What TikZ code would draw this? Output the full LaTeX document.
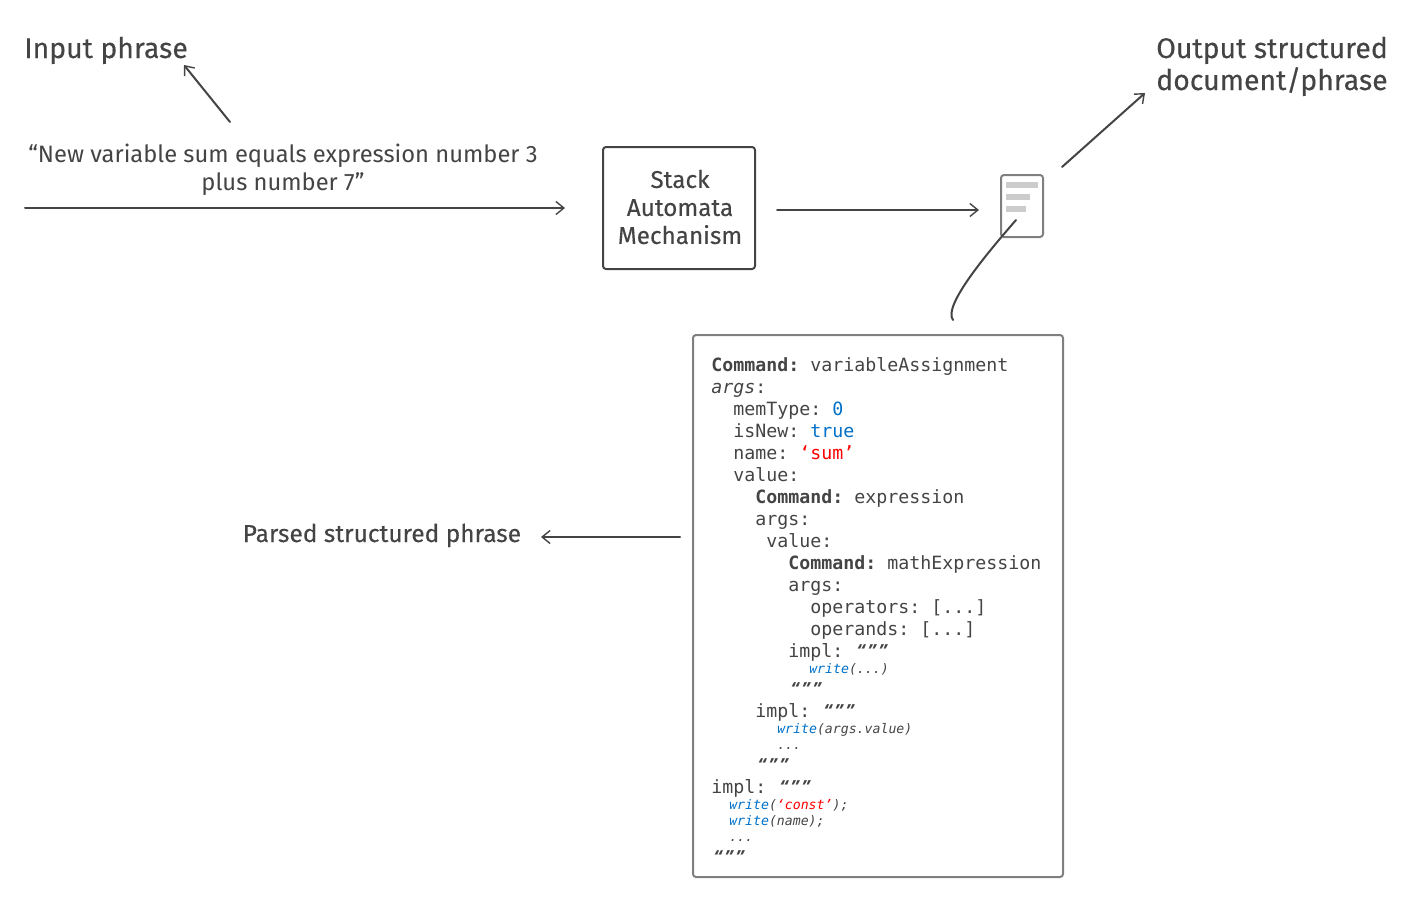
\documentclass[tikz,border=0pt]{standalone}
\usepackage{fontspec}
\usetikzlibrary{arrows.meta}
\setmainfont{Fira Sans}
\newfontfamily\codefont{DejaVu Sans Mono}
\newfontfamily\quotefont{Open Sans}
\definecolor{ink}{HTML}{444444}
\definecolor{boxgray}{HTML}{7F7F7F}
\definecolor{barf}{HTML}{CCCCCC}
\definecolor{kw}{HTML}{0070C8}
\definecolor{strc}{HTML}{FF0000}
\tikzset{
  conn/.style={draw=ink,line width=1.5pt,line cap=round,-{Straight Barb[length=6pt,width=9.75pt,line width=1.05pt]}},
  plain/.style={draw=ink,line width=1.5pt,line cap=round},
  label/.style={text=ink,inner sep=0pt,font=\fontsize{21.3}{24}\selectfont\addfontfeatures{FakeBold=0.25},align=left},
  labelb/.style={text=ink,inner sep=0pt,font=\fontsize{18.35}{24}\selectfont\addfontfeatures{FakeBold=0.25},align=left},
  body/.style={text=ink,inner sep=0pt,font=\fontsize{17.8}{21}\selectfont,align=center},
  stack/.style={draw=ink,line width=1.5pt,rounded corners=2.25pt,inner sep=0pt,minimum width=114pt,minimum height=91.5pt,align=center,text=ink,font=\fontsize{18.2}{21}\selectfont\addfontfeatures{FakeBold=0.25}},
  graybox/.style={draw=boxgray,line width=1.5pt,rounded corners=2.25pt,inner sep=0pt},
  bar/.style={fill=barf,draw=none,inner sep=0pt},
  code/.style={anchor=base west,inner sep=0pt,xshift=-0.6pt,text=ink,font=\codefont\frenchspacing\fontsize{13.7}{16}\selectfont},
  small/.style={anchor=base west,inner sep=0pt,text=ink,font=\codefont\frenchspacing\itshape\fontsize{9.9}{12}\selectfont},
  quot/.style={anchor=base west,inner sep=0pt,text=ink,font=\quotefont\bfseries\itshape\fontsize{13.5}{16}\selectfont},
}
\newcommand{\kw}[1]{\textcolor{kw}{#1}}
\newcommand{\st}[1]{\textcolor{strc}{#1}}
\newcommand{\qq}{\makebox[8.25pt][c]{“}\makebox[8.25pt][c]{”}\makebox[8.25pt][c]{”}}
\begin{document}
\begin{tikzpicture}[x=0.75pt,y=-0.75pt]
\useasboundingbox (0,0) rectangle (1428,900);
\node[label,anchor=base west] (input) at (24,58) {Input phrase};
\node[label,anchor=base west] (output) at (1156,90) {Output structured\\document/phrase};
\node[body] (phrase) at (283,170) {“New variable sum equals expression number 3\\plus number 7”};
\node[stack] (sam) at (679,208) {};
\node[stack,draw=none,minimum width=0pt,minimum height=0pt] (samtext) at (680,207) {Stack\\Automata\\Mechanism};
\node[labelb,anchor=base west] (parsed) at (242.5,542) {Parsed structured phrase};

% document icon
\node[graybox,minimum width=31.5pt,minimum height=46.5pt] (doc) at (1022,206) {};
\node[bar,minimum width=24pt,minimum height=4.5pt] (b1) at (1022,185) {};
\node[bar,minimum width=18pt,minimum height=4.5pt] (b2) at (1018,197) {};
\node[bar,minimum width=15pt,minimum height=4.5pt] (b3) at (1016,209) {};

% code box
\node[graybox,minimum width=277.5pt,minimum height=406.5pt] (codebox) at (878,606) {};

% free ends
\coordinate (a1s) at (230,122); \coordinate (a1e) at (184,65);
\coordinate (a2s) at (25,208);  \coordinate (a2e) at (565,208);
\coordinate (a3s) at (777,210); \coordinate (a3e) at (979,210);
\coordinate (a4s) at (1062,167);\coordinate (a4e) at (1145,93);
\coordinate (a5s) at (680,537); \coordinate (a5e) at (541,537);
\coordinate (c1) at (1016,220); \coordinate (c2) at (953,320);

\draw[conn] (a1s) -- (a1e);
\draw[conn] (a2s) -- (a2e);
\draw[conn] (a3s) -- (a3e);
\draw[conn] (a4s) -- (a4e);
\draw[conn] (a5s) -- (a5e);
\draw[plain] (c1) .. controls (990,250) and (942,306) .. (c2);

\node[code] (l1) at (712,371) {{\bfseries Command:} variableAssignment};
\node[code] (l2) at (712,393) {{\itshape args}:};
\node[code] (l3) at (734,415) {memType: \kw{0}};
\node[code] (l4) at (734,437) {isNew: \kw{true}};
\node[code] (l5) at (734,459) {name: \st{‘sum’}};
\node[code] (l6) at (734,481) {value:};
\node[code] (l7) at (756,503) {{\bfseries Command:} expression};
\node[code] (l8) at (756,525) {args:};
\node[code] (l9) at (767,547) {value:};
\node[code] (l10) at (789,569) {{\bfseries Command:} mathExpression};
\node[code] (l11) at (789,591) {args:};
\node[code] (l12) at (811,613) {operators: [...]};
\node[code] (l13) at (811,635) {operands: [...]};
\node[code] (l14) at (789,657) {impl:};
\node[quot] (q14) at (855,657) {\qq};
\node[small] (l15) at (809,673) {\kw{write}(...)};
\node[quot] (q15) at (789,695) {\qq};
\node[code] (l16) at (756,717) {impl:};
\node[quot] (q16) at (822,717) {\qq};
\node[small] (l17) at (777,733) {\kw{write}(args.value)};
\node[small] (l18) at (777,749) {...};
\node[quot] (q18) at (756,771) {\qq};
\node[code] (l19) at (712,793) {impl:};
\node[quot] (q19) at (778,793) {\qq};
\node[small] (l20) at (729,809) {\kw{write}(\st{‘const’});};
\node[small] (l21) at (729,825) {\kw{write}(name);};
\node[small] (l22) at (729,841) {...};
\node[quot] (q22) at (712,863) {\qq};
\end{tikzpicture}
\end{document}
